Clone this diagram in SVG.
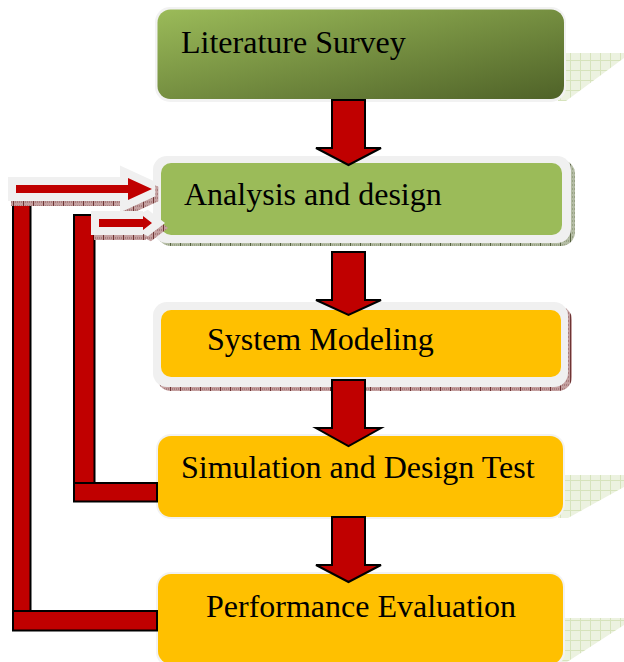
<svg xmlns="http://www.w3.org/2000/svg" width="624" height="662" viewBox="0 0 624 662">
  <style>
    .label { font-family: "Liberation Serif", "Times New Roman", serif; font-size: 32px; fill: #000; }
    .frame { fill: #f0f0f0; }
    .frame-thin { fill: #f2f2f2; }
    .yellow { fill: #FFC000; }
    .flow { fill: #C00000; stroke: #000; stroke-width: 2; stroke-linejoin: miter; }
    .bar { fill: #C00000; stroke: #000; stroke-width: 2; }
    .feed { fill: #C00000; }
    .feed-halo { fill: #f0f0f0; stroke: #f0f0f0; stroke-width: 16; stroke-linejoin: miter; stroke-miterlimit: 2; }
    .feed-shade { fill: url(#hatchRed); stroke: url(#hatchRed); stroke-width: 16; stroke-linejoin: miter; stroke-miterlimit: 2; }
    .curl { fill: url(#gridGreen); }
  </style>
  <defs>
    <linearGradient id="oliveGrad" x1="0" y1="0" x2="1" y2="1">
      <stop offset="0" stop-color="#9BBB59"/>
      <stop offset="1" stop-color="#4F6228"/>
    </linearGradient>
    <pattern id="gridGreen" width="10" height="10" patternUnits="userSpaceOnUse">
      <rect width="10" height="10" fill="#ecf2e0"/>
      <path d="M0 0.5H10M0.5 0V10" stroke="#d6e3bc" stroke-width="1"/>
    </pattern>
    <pattern id="hatchRed" width="10" height="4" patternUnits="userSpaceOnUse">
      <rect width="10" height="4" fill="#c4a0a0"/>
      <path d="M0 1H10" stroke="#8d5a5a" stroke-width="1" stroke-dasharray="1 1"/>
      <path d="M0.5 0V4" stroke="#6e3434" stroke-width="1"/>
    </pattern>
    <pattern id="hatchOlive" width="10" height="4" patternUnits="userSpaceOnUse">
      <rect width="10" height="4" fill="#b4bca4"/>
      <path d="M0 1H10" stroke="#7d8a66" stroke-width="1" stroke-dasharray="1 1"/>
      <path d="M0.5 0V4" stroke="#56613f" stroke-width="1"/>
    </pattern>
  </defs>

  <!-- page-curl shadows behind three of the boxes -->
  <g id="curls">
    <polygon class="curl" points="558,53 624,53 624,58 566,101 558,101"/>
    <polygon class="curl" points="558,475 624,475 624,487 568,518 558,518"/>
    <polygon class="curl" points="558,618 624,618 624,625 567,662 558,662"/>
  </g>

  <g id="literature-survey">
    <rect class="frame-thin" x="155" y="7" width="411" height="95" rx="15"/>
    <rect x="157.5" y="9.5" width="406.5" height="89.5" rx="13" fill="url(#oliveGrad)"/>
    <text class="label" x="181" y="53">Literature Survey</text>
  </g>

  <g id="analysis-design">
    <rect x="157" y="160" width="418" height="86" rx="14" fill="url(#hatchOlive)"/>
    <rect class="frame" x="153" y="156" width="418" height="87" rx="14"/>
    <rect x="161" y="163" width="401" height="72" rx="10" fill="#9BBB59"/>
    <text class="label" x="184" y="205">Analysis and design</text>
  </g>

  <g id="system-modeling">
    <rect x="157" y="306" width="415" height="85" rx="14" fill="url(#hatchRed)"/>
    <rect class="frame" x="153" y="302" width="415" height="85" rx="14"/>
    <rect class="yellow" x="161" y="310" width="400" height="67" rx="10"/>
    <text class="label" x="207" y="350">System Modeling</text>
  </g>

  <g id="simulation-test">
    <rect class="frame-thin" x="156" y="434" width="409" height="85" rx="15"/>
    <rect class="yellow" x="158" y="436" width="405" height="81" rx="13"/>
    <text class="label" x="181" y="478">Simulation and Design Test</text>
  </g>

  <g id="performance-evaluation">
    <rect class="frame-thin" x="156" y="572" width="409" height="95" rx="15"/>
    <rect class="yellow" x="158" y="574" width="405" height="90" rx="13"/>
    <text class="label" x="206" y="617">Performance Evaluation</text>
  </g>

  <g id="connectors">
    <!-- downward block arrows between steps -->
    <polygon class="flow" points="332,100 365,100 365,148 381,148 348.5,165 316,148 332,148"/>
    <polygon class="flow" points="332,252 365,252 365,300 381,300 348.5,315 316,300 332,300"/>
    <polygon class="flow" points="332,380 365,380 365,428 381,428 348.5,446 316,428 332,428"/>
    <polygon class="flow" points="332,517 365,517 365,565 381,565 348.5,582 316,565 332,565"/>

    <!-- feedback loops on the left -->
    <rect class="bar" x="13" y="200" width="17.5" height="411"/>
    <rect class="bar" x="13" y="611" width="144" height="19.5"/>
    <rect class="bar" x="74" y="215" width="20.5" height="268"/>
    <rect class="bar" x="74" y="483" width="83" height="18.5"/>

    <!-- feedback arrow heads entering "Analysis and design" -->
    <polygon class="feed-shade" transform="translate(3,5)" points="16,185 128,185 128,178 152,189 128,200 128,193 16,193"/>
    <polygon class="feed-shade" transform="translate(3,5)" points="99,219 143,219 143,216 152,223 143,230 143,227 99,227"/>
    <polygon class="feed-halo" points="16,185 128,185 128,178 152,189 128,200 128,193 16,193"/>
    <polygon class="feed-halo" points="99,219 143,219 143,216 152,223 143,230 143,227 99,227"/>
    <polygon class="feed" points="16,185 128,185 128,178 152,189 128,200 128,193 16,193"/>
    <polygon class="feed" points="99,219 143,219 143,216 152,223 143,230 143,227 99,227"/>
  </g>
</svg>
